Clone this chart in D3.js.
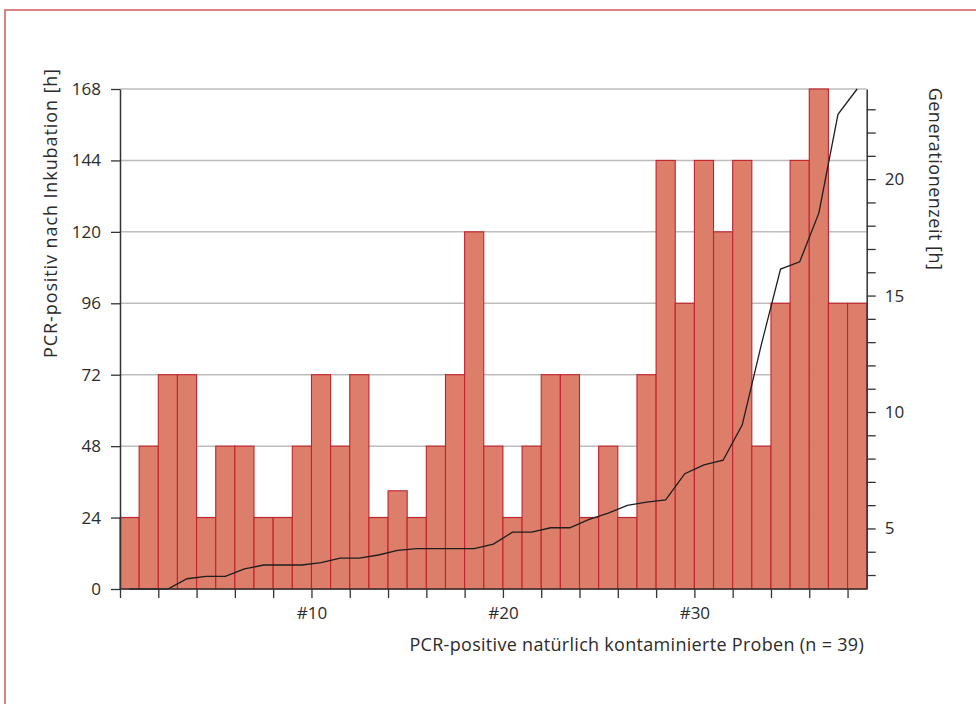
<!DOCTYPE html>
<html><head><meta charset="utf-8">
<script src="https://cdn.jsdelivr.net/npm/d3@7"></script>
<style>
html,body{margin:0;padding:0;background:#fff;}
text{font-family:"Open Sans","Noto Sans",sans-serif;fill:#2b2b2b;}
</style></head>
<body>
<svg id="chart" width="976" height="704"></svg>
<script>
// ---- data ----
const sampleIds = [1,2,3,4,5,6,7,8,9,10,11,12,13,14,15,16,17,18,19,20,21,22,23,24,25,26,27,28,29,30,31,32,33,34,35,36,37,38,39];
const pcrHours = [24,48,72,72,24,48,48,24,24,48,72,48,72,24,33,24,48,72,120,48,24,48,72,72,24,48,24,72,144,96,144,120,144,48,96,144,168,96,96];
const genTime = [2.4,2.4,2.4,2.84,2.94,2.94,3.26,3.43,3.43,3.43,3.53,3.73,3.73,3.86,4.06,4.13,4.13,4.13,4.13,4.33,4.84,4.84,5.03,5.03,5.39,5.66,5.99,6.13,6.23,7.35,7.73,7.93,9.45,12.9,16.14,16.45,18.54,22.78,23.87];
const leftTicks = [0,24,48,72,96,120,144,168];
const rightTicks = [3,4,5,6,7,8,9,10,11,12,13,14,15,16,17,18,19,20,21,22,23];
const rightLabels = [5,10,15,20];
const xTicks = [0,2,4,6,8,10,12,14,16,18,20,22,24,26,28,30,32,34,36,38];
const xLabels = [10,20,30];
const leftTitle = "PCR-positiv nach Inkubation [h]";
const rightTitle = "Generationenzeit [h]";
const xTitle = "PCR-positive natürlich kontaminierte Proben (n = 39)";

// ---- layout ----
const svg = d3.select("#chart");
const L = 120, R = 866.7, T = 89, B = 589;

// frame
svg.append("path").attr("d", `M5,704 L5,10 L976,10`).attr("fill","none")
   .attr("stroke","#cf5a5a").attr("stroke-width",1.5);

const x = d3.scaleLinear().domain([0, sampleIds.length]).range([L, R]);
const y = d3.scaleLinear().domain([0, 168]).range([B, T]);
const y2 = d3.scaleLinear().domain([2.4, 23.87]).range([B, T]);

// gridlines
svg.append("g").selectAll("line").data(leftTicks.filter(d=>d>0)).join("line")
  .attr("x1", L).attr("x2", R).attr("y1", d=>y(d)).attr("y2", d=>y(d))
  .attr("stroke","#bdbdbd").attr("stroke-width",1.5);

// bars
svg.append("g").selectAll("rect").data(pcrHours).join("rect")
  .attr("x", (d,i)=>x(i)).attr("width", (d,i)=>x(i+1)-x(i))
  .attr("y", d=>y(d)).attr("height", d=>B - y(d))
  .attr("fill","#dc7e69").attr("stroke","#c0232e").attr("stroke-width",1.1);

// line
const line = d3.line().x((d,i)=>x(i+0.5)).y(d=>y2(d));
svg.append("path").datum(genTime).attr("d", line).attr("fill","none")
  .attr("stroke","#1e1e1e").attr("stroke-width",1.3);

// left axis
const gl = svg.append("g").attr("transform",`translate(${L},0)`)
  .call(d3.axisLeft(y).tickValues(leftTicks).tickSize(9).tickSizeOuter(0).tickPadding(10));
// bottom axis
const gb = svg.append("g").attr("transform",`translate(0,${B})`)
  .call(d3.axisBottom(x).tickValues(xTicks).tickSize(9).tickSizeOuter(0)
    .tickFormat(d=> xLabels.includes(d) ? "#"+d : "").tickPadding(9));
// right axis
const gr = svg.append("g").attr("transform",`translate(${R},0)`)
  .call(d3.axisRight(y2).tickValues(rightTicks).tickSize(9).tickSizeOuter(0)
    .tickFormat(d=> rightLabels.includes(d) ? d : "").tickPadding(9));

[gl,gb,gr].forEach(g=>{
  g.select(".domain").attr("stroke","#333").attr("stroke-width",1.5);
  g.selectAll(".tick line").attr("stroke","#333").attr("stroke-width",1.3);
  g.selectAll(".tick text").style("font-family",'"Open Sans",sans-serif').attr("font-size",17).attr("fill","#2b2b2b");
});
gb.select(".domain").attr("d", `M${L},0H${R}`);

// titles
svg.append("text").attr("transform","translate(57,213) rotate(-90)")
  .attr("text-anchor","middle").attr("font-size",18).attr("letter-spacing",0.9).text(leftTitle);
svg.append("text").attr("transform","translate(929,179) rotate(90)")
  .attr("text-anchor","middle").attr("font-size",18).attr("letter-spacing",0.5).text(rightTitle);
svg.append("text").attr("x",864).attr("y",651)
  .attr("text-anchor","end").attr("font-size",18).attr("letter-spacing",0.3).text(xTitle);
</script>
</body></html>
